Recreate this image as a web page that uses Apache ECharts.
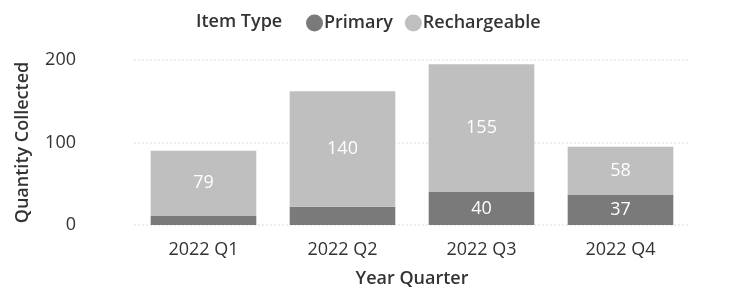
<!DOCTYPE html>
<html>
<head>
<meta charset="utf-8">
<script src="https://cdn.jsdelivr.net/npm/echarts@6/dist/echarts.min.js"></script>
<style>
html,body{margin:0;padding:0;background:#fff;}
#chart{width:736px;height:289px;}
</style>
</head>
<body>
<div id="chart"></div>
<script>
var quarters=['2022 Q1','2022 Q2','2022 Q3','2022 Q4'];
var primary=[11,22,40,37];
var rechargeable=[79,140,155,58];
var yTicks=[0,100,200];

var font='"Open Sans", "Noto Sans", sans-serif';
var Chart=echarts.init(document.getElementById('chart'));

function segLabel(p){
    // like Power BI: small segments get no label
    return p.value>=30?p.value:'';
}

var option={
    animation:false,
    textStyle:{fontFamily:font},
    title:{
        text:'Item Type',
        left:191,
        top:8,
        textStyle:{fontSize:18,fontWeight:600,color:'#333',fontFamily:font}
    },
    legend:{
        left:301,
        top:9,
        icon:'circle',
        itemWidth:17,
        itemHeight:17,
        itemGap:12,
        textStyle:{fontSize:18,fontWeight:600,color:'#333',fontFamily:font,padding:[0,0,0,-4]},
        data:['Primary','Rechargeable']
    },
    grid:{left:134,right:46,top:60,bottom:64,containLabel:false,outerBoundsMode:'none'},
    xAxis:{
        type:'category',
        data:quarters,
        name:'Year Quarter',
        nameLocation:'middle',
        nameGap:45,
        nameTextStyle:{fontSize:18,fontWeight:600,color:'#333',fontFamily:font},
        axisLine:{show:false},
        axisTick:{show:false},
        axisLabel:{fontSize:18,color:'#333',margin:16,fontFamily:font}
    },
    yAxis:{
        type:'value',
        min:yTicks[0],
        max:yTicks[yTicks.length-1],
        interval:100,
        name:'Quantity Collected',
        nameLocation:'middle',
        nameGap:102,
        nameTextStyle:{fontSize:18,fontWeight:600,color:'#333',fontFamily:font},
        axisLabel:{fontSize:18,color:'#333',margin:58,fontFamily:font},
        splitLine:{lineStyle:{color:'#ececec',type:'dotted',width:2}}
    },
    series:[{
        name:'Primary',
        type:'bar',
        stack:'total',
        barCategoryGap:'24%',
        itemStyle:{color:'#7a7a7a'},
        label:{show:true,position:'inside',color:'#fff',fontSize:18,fontFamily:font,formatter:segLabel},
        data:primary
    },{
        name:'Rechargeable',
        type:'bar',
        stack:'total',
        barCategoryGap:'24%',
        itemStyle:{color:'#bfbfbf'},
        label:{show:true,position:'inside',color:'#fff',fontSize:18,fontFamily:font,formatter:segLabel},
        data:rechargeable
    }]
};

Chart.setOption(option);
</script>
</body>
</html>
